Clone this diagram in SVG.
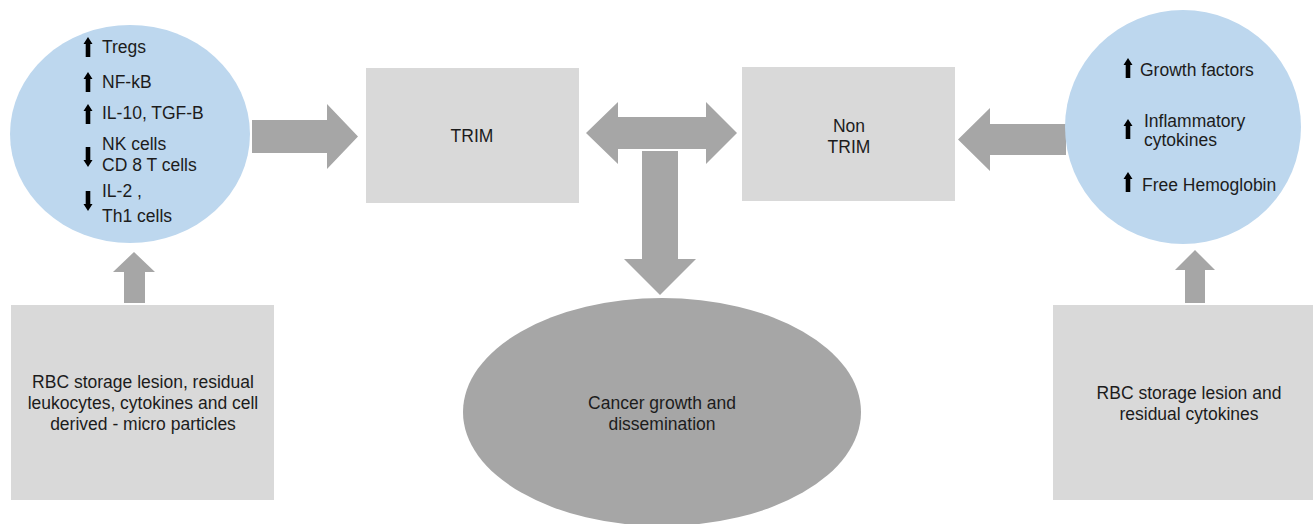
<svg xmlns="http://www.w3.org/2000/svg" width="1314" height="524" viewBox="0 0 1314 524">
<style>
.box{fill:#d9d9d9}
.circ{fill:#bdd7ee}
.conn{fill:#a6a6a6}
.ic{fill:#000}
text{font-family:"Liberation Sans",Arial,sans-serif;font-size:17.5px;fill:#1c1c1c}
.c{text-anchor:middle}
</style>
<defs>
<g id="up"><polygon points="0,0 4.5,7 2.3,7 2.3,20 -2.3,20 -2.3,7 -4.5,7"/></g>
<g id="down"><polygon points="0,20 4.5,13 2.3,13 2.3,0 -2.3,0 -2.3,13 -4.5,13"/></g>
</defs>
<rect width="1314" height="524" fill="#fff"/>
<g id="connectors" class="conn">
<polygon points="252,120 327,120 327,104 358,136.5 327,169 327,153 252,153"/>
<polygon points="1066,124 990,124 990,108 958,139.5 990,171 990,155 1066,155"/>
<polygon points="586,133 618,102 618,117 706,117 706,102 737,133 706,164 706,149 618,149 618,164"/>
<polygon points="642,151 678,151 678,259 696,259 660,295 624,259 642,259"/>
<polygon points="124,303 124,272 113,272 134,252 155,272 145,272 145,303"/>
<polygon points="1185,303 1185,270 1175,270 1195,250 1215,270 1205,270 1205,303"/>
</g>
<g id="immune-circle">
<ellipse class="circ" cx="130" cy="134" rx="120" ry="109"/>
<g class="ic">
<use href="#up" x="88" y="37"/>
<use href="#up" x="88" y="72"/>
<use href="#up" x="88" y="104"/>
<use href="#down" x="88" y="147"/>
<use href="#down" x="88" y="191"/>
</g>
<text x="102" y="53">Tregs</text>
<text x="102" y="88">NF-kB</text>
<text x="102" y="119">IL-10, TGF-B</text>
<text x="102" y="150">NK cells</text>
<text x="102" y="171">CD 8 T cells</text>
<text x="102" y="197">IL-2 ,</text>
<text x="102" y="222">Th1 cells</text>
</g>
<g id="trim">
<rect class="box" x="366" y="68" width="213" height="135"/>
<text class="c" x="472" y="142">TRIM</text>
</g>
<g id="non-trim">
<rect class="box" x="742" y="67" width="213" height="134"/>
<text class="c" x="849" y="132">Non</text>
<text class="c" x="849" y="153">TRIM</text>
</g>
<g id="effects-circle">
<ellipse class="circ" cx="1183" cy="127" rx="118" ry="117"/>
<g class="ic">
<use href="#up" x="1128" y="58"/>
<use href="#up" x="1128" y="119"/>
<use href="#up" x="1128" y="172"/>
</g>
<text x="1140" y="76">Growth factors</text>
<text x="1144" y="127">Inflammatory</text>
<text x="1144" y="146">cytokines</text>
<text x="1142" y="191">Free Hemoglobin</text>
</g>
<g id="cancer">
<ellipse class="conn" cx="662" cy="412" rx="199" ry="114"/>
<text class="c" x="662" y="409">Cancer growth and</text>
<text class="c" x="662" y="430">dissemination</text>
</g>
<g id="left-source">
<rect class="box" x="11" y="305" width="263" height="195"/>
<text class="c" x="143" y="388">RBC storage lesion, residual</text>
<text class="c" x="143" y="409">leukocytes, cytokines and cell</text>
<text class="c" x="143" y="430">derived - micro particles</text>
</g>
<g id="right-source">
<rect class="box" x="1053" y="305" width="260" height="195"/>
<text class="c" x="1189" y="399">RBC storage lesion and</text>
<text class="c" x="1189" y="420">residual cytokines</text>
</g>
</svg>
